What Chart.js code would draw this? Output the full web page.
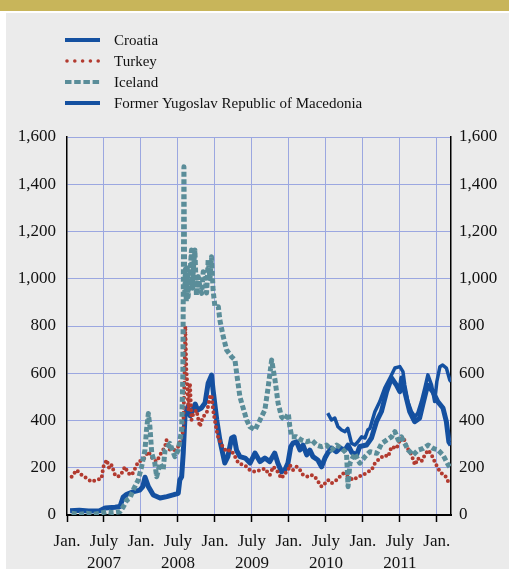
<!DOCTYPE html>
<html>
<head>
<meta charset="utf-8">
<script src="https://cdn.jsdelivr.net/npm/chart.js@4.4.0/dist/chart.umd.min.js"></script>
<style>
  html, body { margin: 0; padding: 0; background: #fff; }
  canvas { display: block; }
</style>
</head>
<body>
<canvas id="cdsChart" width="509" height="569"></canvas>
<script>
  // x values are months counted from Jan. 2007
  const tickMonths = [0, 6, 12, 18, 24, 30, 36, 42, 48, 54, 60];
  const tickMonthNames = ['Jan.', 'July', 'Jan.', 'July', 'Jan.', 'July', 'Jan.', 'July', 'Jan.', 'July', 'Jan.'];
  const tickYears = ['', '2007', '', '2008', '', '2009', '', '2010', '', '2011', ''];
  const yTicks = [0, 200, 400, 600, 800, 1000, 1200, 1400, 1600];

  const seriesNames = ['Croatia', 'Turkey', 'Iceland', 'Former Yugoslav Republic of Macedonia'];

  const croatiaMonths = [0.5, 2, 3.5, 5.3, 6.2, 7.8, 8.6, 9.1, 9.7, 10.7, 11.8, 12.3, 12.65, 13.2, 14.0, 15.1, 16.2, 17.2, 18.05,
    18.3, 18.6, 18.86, 19.14, 19.6, 20.0, 20.4, 20.8, 21.2, 21.8, 22.4, 22.9, 23.45, 23.7, 24.3, 24.8, 25.6, 26.1, 26.7, 27.1, 27.5,
    28.05, 28.9, 29.7, 30.5, 31.3, 32.1, 32.9, 33.7, 34.2, 34.8, 35.35, 35.85, 36.3, 36.65, 37.25, 37.8, 38.3, 38.9, 39.4, 39.9,
    40.7, 41.3, 41.85, 42.3, 42.9, 43.7, 44.3, 45.1, 45.6, 46.2, 47.0, 47.5, 48.6, 49.4, 50.2, 51.0, 51.85, 52.65, 53.45, 54.0,
    54.3, 54.8, 55.6, 56.4, 57.2, 57.7, 58.5, 59.35, 60.15, 61.0, 61.55, 61.95, 62.3];
  const croatiaValues = [18, 20, 17, 18, 30, 33, 36, 75, 88, 98, 105, 120, 160, 120, 85, 72, 78, 85, 92,
    148, 162, 262, 416, 458, 420, 444, 470, 444, 453, 474, 558, 592, 529, 402, 317, 220, 247, 326, 331, 275,
    247, 241, 220, 262, 226, 241, 226, 262, 220, 183, 190, 220, 289, 304, 310, 275, 296, 254, 275, 247,
    233, 204, 241, 262, 283, 268, 283, 275, 296, 265, 255, 290, 296, 326, 395, 437, 522, 580, 550, 522,
    580, 522, 437, 395, 410, 465, 550, 522, 480, 453, 395, 310, 296];

  const turkeyMonths = [0.75, 1.55, 2.4, 3.2, 4.0, 4.8, 5.6, 5.9, 6.45, 6.85, 7.25, 7.8, 8.3, 8.85, 9.4, 9.95, 10.5, 11.05, 11.55,
    12.35, 13.2, 14.0, 14.55, 15.1, 15.9, 16.15, 16.7, 17.5, 18.05, 18.6, 18.85, 19.05, 19.2, 19.35, 19.5, 19.7, 19.95, 20.2,
    20.5, 21.0, 21.55, 22.05, 22.65, 23.2, 23.45, 23.7, 24.25, 24.55, 25.1, 25.9, 26.45, 26.95, 27.8, 28.6, 29.15, 29.65, 30.5,
    31.3, 32.1, 32.9, 33.45, 34.0, 34.8, 35.35, 35.9, 36.15, 36.7, 37.25, 37.8, 38.3, 39.15, 39.7, 40.2, 40.75, 41.3, 41.85,
    42.35, 42.9, 43.45, 44.0, 44.8, 45.6, 46.45, 47.25, 48.05, 48.85, 49.4, 49.95, 50.75, 51.55, 52.1, 52.65, 53.45, 54.0,
    54.55, 55.1, 55.9, 56.45, 56.95, 57.5, 58.05, 58.6, 59.15, 59.65, 60.2, 60.75, 61.3, 61.85];
  const turkeyValues = [162, 190, 169, 155, 141, 148, 155, 204, 233, 197, 212, 169, 162, 176, 204, 176, 169, 197, 226,
    233, 268, 233, 226, 254, 289, 317, 275, 275, 289, 331, 360, 560, 800, 620, 560, 444, 558, 402,
    430, 444, 374, 416, 430, 501, 508, 444, 360, 326, 296, 268, 275, 262, 220, 212, 204, 190, 183,
    190, 197, 169, 204, 190, 155, 176, 190, 212, 190, 204, 190, 169, 162, 169, 162, 141, 120, 134,
    148, 134, 141, 155, 176, 162, 148, 162, 169, 183, 190, 219, 240, 254, 247, 289, 282, 317,
    331, 289, 254, 212, 240, 226, 254, 275, 254, 226, 197, 176, 169, 141];

  const icelandMonths = [0.75, 2.1, 3.2, 4.25, 5.35, 6.45, 7.5, 8.6, 9.15, 9.7, 10.2, 10.75, 11.55, 12.1, 12.65, 12.9, 13.2, 13.45,
    13.75, 14.25, 14.55, 15.1, 15.6, 15.9, 16.7, 17.5, 18.05, 18.6, 18.8, 18.97, 19.1, 19.2, 19.35, 19.5, 19.65, 19.9, 20.2, 20.35,
    20.5, 20.75, 21.0, 21.3, 21.6, 21.85, 22.1, 22.4, 22.65, 22.9, 23.2, 23.45, 23.7, 24.0, 24.55, 24.8, 25.35, 25.9, 26.7, 27.25,
    27.6, 28.05, 28.35, 29.15, 29.65, 30.5, 31.3, 32.1, 32.65, 33.2, 33.75, 34.25, 34.8, 35.35, 35.9, 36.15, 36.45, 37.25, 38.05,
    38.85, 39.7, 40.5, 41.3, 42.1, 42.9, 43.75, 44.55, 45.35, 45.6, 45.9, 46.7, 47.5, 48.35, 49.15, 50.25, 51.05, 51.85, 52.65,
    53.2, 53.75, 54.25, 54.8, 55.35, 56.15, 56.95, 57.8, 58.6, 59.4, 60.2, 61.0, 61.85, 62.1];
  const icelandValues = [7, 3, 7, 3, 7, 14, 10, 14, 35, 63, 71, 106, 148, 204, 275, 360, 430, 374,
    261, 219, 162, 219, 190, 275, 303, 247, 275, 360, 600, 1474, 938, 1040, 900, 1060, 924, 1000, 1122, 960,
    1040, 1122, 930, 1009, 960, 938, 1030, 1009, 940, 1079, 1000, 1093, 952, 882, 882, 825, 755, 698, 670, 656,
    585, 501, 473, 402, 374, 360, 402, 444, 543, 656, 571, 473, 416, 402, 430, 374, 331, 331, 317,
    310, 317, 296, 289, 296, 275, 296, 282, 261, 120, 219, 261, 219, 247, 268, 261, 303, 317, 331,
    353, 317, 331, 303, 275, 254, 275, 282, 296, 282, 275, 254, 212, 204];

  const fyromMonths = [42.3, 42.9, 43.45, 43.95, 44.55, 45.1, 45.55, 46.15, 46.7, 47.2, 47.8, 48.35, 48.8, 49.15, 49.95, 50.75,
    51.55, 52.4, 53.2, 54.0, 54.5, 54.8, 55.3, 55.9, 56.45, 56.9, 57.5, 58.05, 58.55, 59.15, 59.65, 60.0, 60.5, 60.95, 61.55,
    62.1, 62.3];
  const fyromValues = [431, 402, 410, 374, 360, 353, 367, 304, 296, 310, 331, 326, 360, 367, 437, 480,
    537, 580, 622, 628, 607, 550, 480, 437, 416, 431, 480, 537, 593, 550, 480, 564, 628, 635, 622,
    571, 565];

  const colors = ['#1450a0', '#b23a2f', '#5a8d99', '#1450a0'];
  const gridBlue = '#9ba7e0';
  const serif = "'Liberation Serif', 'Times New Roman', serif";

  function points(xs, ys) {
    return xs.map((x, i) => ({ x: x, y: ys[i] }));
  }

  const pageBackground = {
    id: 'pageBackground',
    beforeDraw(chart) {
      const ctx = chart.ctx;
      ctx.save();
      ctx.fillStyle = '#ffffff';
      ctx.fillRect(0, 0, chart.width, chart.height);
      ctx.fillStyle = '#c8b55a';
      ctx.fillRect(0, 0, chart.width, 11);
      ctx.fillStyle = '#ebebeb';
      ctx.fillRect(6, 13, chart.width - 6, chart.height - 13);
      ctx.restore();
    },
    afterDraw(chart) {
      // legend drawn by hand, line samples follow the dataset styles
      const ctx = chart.ctx;
      const rows = [40, 61, 82, 103];
      ctx.save();
      rows.forEach((y, i) => {
        ctx.strokeStyle = colors[i];
        ctx.fillStyle = colors[i];
        if (i === 1) {
          for (let k = 0; k < 5; k++) {
            ctx.beginPath();
            ctx.arc(67 + k * 7.8, y, 1.8, 0, Math.PI * 2);
            ctx.fill();
          }
        } else if (i === 2) {
          for (let k = 0; k < 4; k++) ctx.fillRect(65 + k * 9.2, y - 2, 6.5, 4);
        } else {
          ctx.fillRect(65, y - 2, 35, 4);
        }
        ctx.fillStyle = '#111';
        ctx.font = '15px ' + serif;
        ctx.textBaseline = 'middle';
        ctx.fillText(seriesNames[i], 114, y + 1);
      });
      ctx.restore();
    }
  };

  new Chart(document.getElementById('cdsChart'), {
    type: 'line',
    data: {
      datasets: [
        { label: seriesNames[0], data: points(croatiaMonths, croatiaValues), borderColor: colors[0], borderWidth: 5, order: 4 },
        { label: seriesNames[1], data: points(turkeyMonths, turkeyValues), borderColor: colors[1], borderWidth: 4,
          borderDash: [0, 5], borderCapStyle: 'round', order: 3 },
        { label: seriesNames[2], data: points(icelandMonths, icelandValues), borderColor: colors[2], borderWidth: 5,
          borderDash: [5, 2.5], order: 2 },
        { label: seriesNames[3], data: points(fyromMonths, fyromValues), borderColor: colors[3], borderWidth: 3.5, order: 1 }
      ]
    },
    options: {
      responsive: false,
      animation: false,
      devicePixelRatio: 1,
      elements: { point: { radius: 0 }, line: { tension: 0, borderJoinStyle: 'round' } },
      layout: { padding: { top: 137, left: 0, right: 0, bottom: 0 } },
      plugins: { legend: { display: false }, tooltip: { enabled: false } },
      scales: {
        x: {
          type: 'linear',
          position: 'bottom',
          min: 0,
          max: 62.3,
          afterBuildTicks: (scale) => { scale.ticks = tickMonths.map(v => ({ value: v })); },
          afterFit: (scale) => { scale.height = 54; },
          grid: {
            color: (c) => (c.tick && c.tick.value === 0 ? 'rgba(0,0,0,0)' : gridBlue),
            lineWidth: 1,
            tickColor: '#000',
            tickLength: 7,
            tickWidth: 1.5
          },
          border: { color: '#000', width: 2 },
          ticks: {
            autoSkip: false,
            maxRotation: 0,
            padding: 8,
            color: '#111',
            font: { family: serif, size: 17, lineHeight: 1.3 },
            callback: (value, i) => (tickYears[i] ? [tickMonthNames[i], tickYears[i]] : tickMonthNames[i])
          }
        },
        y: {
          position: 'left',
          min: 0,
          max: 1600,
          afterBuildTicks: (scale) => { scale.ticks = yTicks.map(v => ({ value: v })); },
          afterFit: (scale) => { scale.width = 67; },
          grid: {
            color: (c) => (c.tick && c.tick.value === 0 ? 'rgba(0,0,0,0)' : gridBlue),
            lineWidth: 1,
            drawTicks: false
          },
          border: { color: '#000', width: 1.5 },
          ticks: {
            padding: 11,
            color: '#111',
            font: { family: serif, size: 17 },
            callback: (v) => v.toLocaleString('en-US')
          }
        },
        y2: {
          position: 'right',
          min: 0,
          max: 1600,
          afterBuildTicks: (scale) => { scale.ticks = yTicks.map(v => ({ value: v })); },
          afterFit: (scale) => { scale.width = 58; },
          grid: { display: false, drawTicks: false },
          border: { color: '#000', width: 1.5 },
          ticks: {
            padding: 8,
            color: '#111',
            font: { family: serif, size: 17 },
            callback: (v) => v.toLocaleString('en-US')
          }
        }
      }
    },
    plugins: [pageBackground]
  });
</script>
</body>
</html>
